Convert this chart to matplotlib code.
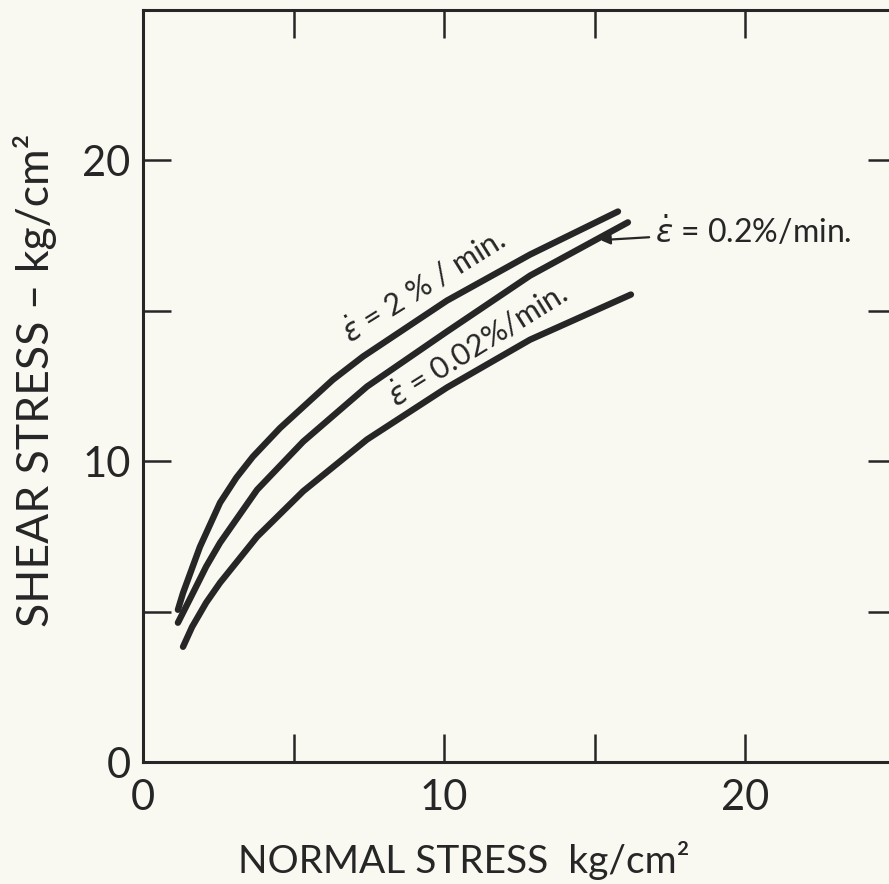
import matplotlib
matplotlib.use("Agg")
import matplotlib.pyplot as plt

# curve readings (normal stress, shear stress) in kg/cm^2
x_fast = [1.16, 1.33, 1.89, 2.56, 3.10, 3.65, 4.55, 6.31, 7.31, 10.10, 12.86, 15.78]
y_fast = [5.06, 5.62, 7.15, 8.62, 9.45, 10.15, 11.10, 12.71, 13.48, 15.34, 16.87, 18.30]

x_mid = [1.16, 1.66, 2.10, 2.56, 3.79, 5.32, 7.44, 10.10, 12.86, 16.11]
y_mid = [4.63, 5.62, 6.50, 7.29, 9.05, 10.65, 12.48, 14.31, 16.17, 17.94]

x_slow = [1.33, 1.63, 2.10, 2.56, 3.79, 5.32, 7.44, 10.10, 12.86, 16.21]
y_slow = [3.83, 4.49, 5.30, 5.96, 7.49, 9.00, 10.72, 12.45, 14.04, 15.54]

ticks = [0, 5, 10, 15, 20, 25]
tick_labels = ["0", "", "10", "", "20", ""]

bg = "#f9f9f2"
ink = "#262626"

plt.rcParams['font.family'] = ['Lato', 'DejaVu Sans']
plt.rcParams['mathtext.fontset'] = 'dejavusans'

fig = plt.figure(figsize=(8.89, 8.84), dpi=100, facecolor=bg)
ax = fig.add_axes([143/889, 122/884, 752.5/889, 752/884], facecolor=bg)

for xs, ys in [(x_fast, y_fast), (x_mid, y_mid), (x_slow, y_slow)]:
    ax.plot(xs, ys, color=ink, lw=4.6, solid_capstyle='round', solid_joinstyle='round')

ax.set_xlim(0, 25)
ax.set_ylim(0, 25)
ax.set_xticks(ticks)
ax.set_xticklabels(tick_labels)
ax.set_yticks(ticks)
ax.set_yticklabels(tick_labels)
ax.tick_params(direction='in', length=20, width=1.8, colors=ink, labelsize=30,
               top=True, right=True)
ax.tick_params(axis='x', pad=12)
ax.tick_params(axis='y', pad=9)
for s in ax.spines.values():
    s.set_linewidth(2.2)
    s.set_color(ink)

# curve labels
ax.text(9.3, 15.85, r"$\dot{\epsilon}$ = 2 % / min.", rotation=32, rotation_mode='anchor',
        ha='center', va='center', fontsize=22, color=ink)
ax.text(11.1, 13.9, r"$\dot{\epsilon}$ = 0.02%/min.", rotation=32, rotation_mode='anchor',
        ha='center', va='center', fontsize=22, color=ink)
ax.annotate(r"$\dot{\epsilon}$ = 0.2%/min.", xy=(15.2, 17.35), xytext=(17.0, 17.65),
            ha='left', va='center', fontsize=23, color=ink,
            arrowprops=dict(arrowstyle='-|>', color=ink, lw=1.6, mutation_scale=14,
                            shrinkA=2, shrinkB=0))

fig.text(464/889, 11/884, "NORMAL STRESS  kg/cm²", ha='center', va='baseline',
         fontsize=28, color=ink)
fig.text(35/889, (884-380)/884, "SHEAR STRESS – kg/cm²", rotation=90,
         ha='center', va='center', fontsize=32, color=ink)

fig.savefig("out.png", dpi=100, facecolor=bg)
